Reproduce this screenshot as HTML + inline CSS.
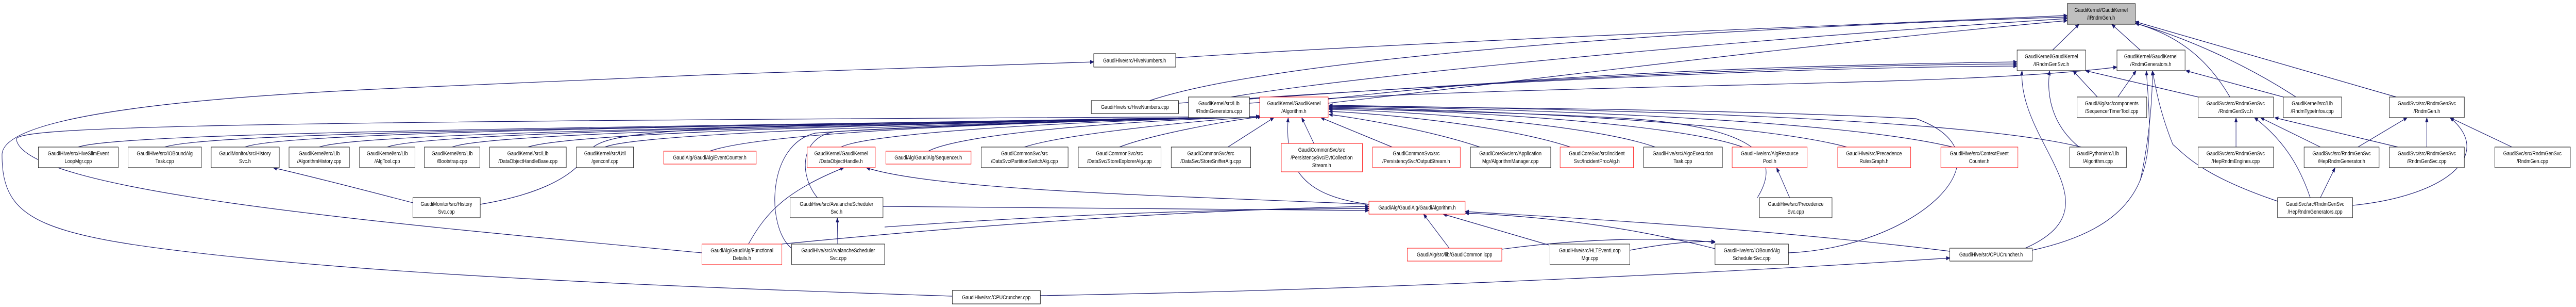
<!DOCTYPE html>
<html><head><meta charset="utf-8"><meta name="viewport" content="width=6319, initial-scale=1"><style>
html,body{margin:0;padding:0;background:#fff;width:100%;height:100%;overflow:hidden}
svg{display:block;position:absolute;left:0;top:0;width:100vw;height:100vh}
text{font-family:"Liberation Sans",Arial,sans-serif;font-size:11.5px;fill:#000}
.e{fill:none;stroke:#191970;stroke-width:1.2}
</style></head><body>
<svg viewBox="0 0 6319 595" preserveAspectRatio="none" xmlns="http://www.w3.org/2000/svg">
<defs><marker id="a" markerWidth="10" markerHeight="8" refX="9" refY="4" orient="auto" markerUnits="userSpaceOnUse"><path d="M0,0 L10,4 L0,8 z" fill="#191970"/></marker></defs>
<g id="edges" marker-end="url(#a)">
<path class="e" d="M192,285 C300,255 1500,248 3090,226"/>
<path class="e" d="M404,285 C520,255 1600,248 3090,226"/>
<path class="e" d="M601,285 C700,255 1700,246 3090,226"/>
<path class="e" d="M783,285 C880,258 1800,246 3090,226"/>
<path class="e" d="M950,285 C1040,258 1900,244 3090,226"/>
<path class="e" d="M1109,285 C1200,258 2000,244 3090,226"/>
<path class="e" d="M1295,285 C1400,258 2100,242 3090,226"/>
<path class="e" d="M1484,285 C1560,260 2200,242 3090,226"/>
<path class="e" d="M1741,293 C1850,262 2300,240 3090,226"/>
<path class="e" d="M2063,285 C2120,262 2500,238 3090,226"/>
<path class="e" d="M2277,293 C2350,262 2700,236 3090,226"/>
<path class="e" d="M2513,285 C2600,262 2900,236 3090,226"/>
<path class="e" d="M2746,285 C2820,262 3000,235 3095,226"/>
<path class="e" d="M3012,285 L3125,228"/>
<path class="e" d="M3223,278 L3193,228"/>
<path class="e" d="M3415,285 L3240,228"/>
<path class="e" d="M3630,285 C3500,250 3300,225 3260,222"/>
<path class="e" d="M3852,285 C3700,245 3400,220 3260,216"/>
<path class="e" d="M4060,285 C3900,240 3450,215 3260,212"/>
<path class="e" d="M4275,285 C4100,235 3500,212 3260,210"/>
<path class="e" d="M4530,285 C4300,235 3600,212 3260,208"/>
<path class="e" d="M4790,285 C4500,230 3700,210 3260,206"/>
<path class="e" d="M5105,285 C4800,225 3800,210 3260,204"/>
<path class="e" d="M4311,383 C4360,320 4350,250 4000,230 C3800,220 3400,212 3260,210"/>
<path class="e" d="M1178,396 C1300,380 1400,350 1440,300 C1470,250 1600,244 3090,226"/>
<path class="e" d="M3358,396 C3200,380 3150,330 3160,228"/>
<path class="e" d="M1722,490 C900,430 60,370 40,270 C40,248 400,235 3090,226"/>
<path class="e" d="M1940,480 C1880,440 1880,280 2000,258 C2300,240 2800,232 3090,226"/>
<path class="e" d="M2005,383 C1960,340 1960,265 2050,255 C2400,240 2800,232 3090,226"/>
<path class="e" d="M1918,473 C2600,420 3100,404 3358,400"/>
<path class="e" d="M2170,440 C2700,410 3100,405 3358,404"/>
<path class="e" d="M2166,400 C2700,400 3100,404 3358,408"/>
<path class="e" d="M3555,481 L3492,415"/>
<path class="e" d="M3800,475 L3540,415"/>
<path class="e" d="M4207,482 C4000,440 3800,420 3594,413"/>
<path class="e" d="M4783,487 C4300,440 3800,420 3594,410"/>
<path class="e" d="M3684,483 C3900,460 4100,460 4207,470"/>
<path class="e" d="M3998,485 C4100,470 4150,468 4207,468"/>
<path class="e" d="M1013,393 C900,370 780,345 670,325"/>
<path class="e" d="M1836,473 C1880,410 1930,370 2070,325"/>
<path class="e" d="M3358,396 C2900,380 2300,370 2125,325"/>
<path class="e" d="M2055,473 L2054,422"/>
<path class="e" d="M4390,383 L4358,325"/>
<path class="e" d="M2552,573 C3500,560 4400,520 4783,500"/>
<path class="e" d="M2336,574 C1800,560 1100,540 600,500 C100,460 5,430 5,300 C5,230 400,190 1000,170 C1500,150 2300,128 2683,120"/>
<path class="e" d="M4968,481 C5200,400 4950,280 4960,137"/>
<path class="e" d="M4985,485 C5300,430 5280,300 5265,137"/>
<path class="e" d="M4387,490 C4700,480 4950,300 4700,230 C4200,210 3500,208 3260,206"/>
<path class="e" d="M5100,285 C5030,240 5020,180 5028,137"/>
<path class="e" d="M5145,188 L5085,137"/>
<path class="e" d="M5195,188 L5240,137"/>
<path class="e" d="M5035,97 L5100,47"/>
<path class="e" d="M5250,97 L5180,47"/>
<path class="e" d="M2884,112 C3500,80 4500,50 5071,30"/>
<path class="e" d="M2820,195 C3100,120 4000,60 5071,33"/>
<path class="e" d="M3020,188 C3300,150 4200,80 5071,36"/>
<path class="e" d="M3258,200 C3800,150 4500,80 5071,40"/>
<path class="e" d="M3258,192 C3800,140 4500,125 4948,120"/>
<path class="e" d="M3065,192 C3800,150 4500,125 4948,124"/>
<path class="e" d="M2891,200 C3800,150 4500,130 4948,128"/>
<path class="e" d="M3065,200 C3800,160 4800,170 5193,130"/>
<path class="e" d="M5470,188 C5420,120 5350,70 5238,45"/>
<path class="e" d="M5632,188 C5500,120 5350,70 5238,45"/>
<path class="e" d="M5878,188 L5238,42"/>
<path class="e" d="M5392,188 L5116,137"/>
<path class="e" d="M5601,188 L5362,137"/>
<path class="e" d="M5485,285 L5485,228"/>
<path class="e" d="M5692,285 L5545,228"/>
<path class="e" d="M5882,285 L5580,228"/>
<path class="e" d="M5784,285 L5905,228"/>
<path class="e" d="M5953,285 L5953,228"/>
<path class="e" d="M6162,285 L6010,228"/>
<path class="e" d="M5692,383 L5728,325"/>
<path class="e" d="M5667,383 C5640,320 5600,270 5530,228"/>
<path class="e" d="M5771,398 C6000,380 6120,300 6010,228"/>
<path class="e" d="M5587,390 C5400,340 5360,300 5330,280 C5300,220 5290,180 5280,137"/>
<path class="e" d="M5250,350 C5270,280 5280,200 5280,137"/>
</g>
<g id="nodes" stroke-width="1">
<g stroke="#000" fill="#bfbfbf"><rect x="5071" y="7" width="167" height="40"/></g>
<g fill="#fff" stroke="#000">
<rect x="4948" y="97" width="168" height="40"/>
<rect x="5193" y="97" width="167" height="40"/>
<rect x="2683" y="104" width="201" height="26"/>
<rect x="2677" y="195" width="214" height="25"/>
<rect x="2915" y="188" width="150" height="40"/>
<rect x="5095" y="188" width="171" height="40"/>
<rect x="5392" y="188" width="185" height="40"/>
<rect x="5601" y="188" width="143" height="40"/>
<rect x="5861" y="188" width="184" height="40"/>
<rect x="94" y="285" width="196" height="40"/>
<rect x="314" y="285" width="180" height="40"/>
<rect x="518" y="285" width="167" height="40"/>
<rect x="709" y="285" width="148" height="40"/>
<rect x="882" y="285" width="136" height="40"/>
<rect x="1041" y="285" width="136" height="40"/>
<rect x="1201" y="285" width="188" height="40"/>
<rect x="1414" y="285" width="140" height="40"/>
<rect x="2407" y="285" width="213" height="40"/>
<rect x="2645" y="285" width="203" height="40"/>
<rect x="2873" y="285" width="195" height="40"/>
<rect x="3607" y="285" width="197" height="40"/>
<rect x="4032" y="285" width="193" height="40"/>
<rect x="5077" y="285" width="139" height="40"/>
<rect x="5392" y="285" width="185" height="40"/>
<rect x="5652" y="285" width="184" height="40"/>
<rect x="5861" y="285" width="184" height="40"/>
<rect x="6120" y="285" width="185" height="40"/>
<rect x="1013" y="383" width="165" height="39"/>
<rect x="1938" y="383" width="228" height="39"/>
<rect x="4316" y="383" width="178" height="39"/>
<rect x="5587" y="383" width="184" height="39"/>
<rect x="1942" y="473" width="228" height="40"/>
<rect x="3802" y="473" width="196" height="40"/>
<rect x="4207" y="473" width="180" height="40"/>
<rect x="4783" y="481" width="202" height="25"/>
<rect x="2336" y="563" width="216" height="26"/>
</g>
<g fill="#fff" stroke="#ff0000">
<rect x="3090" y="188" width="168" height="40"/>
<rect x="1628" y="293" width="227" height="25"/>
<rect x="1980" y="285" width="167" height="40"/>
<rect x="2173" y="293" width="209" height="25"/>
<rect x="3143" y="278" width="199" height="55"/>
<rect x="3367" y="285" width="215" height="40"/>
<rect x="3827" y="285" width="180" height="40"/>
<rect x="4249" y="285" width="184" height="40"/>
<rect x="4508" y="285" width="179" height="40"/>
<rect x="4761" y="285" width="189" height="40"/>
<rect x="3358" y="390" width="236" height="25"/>
<rect x="1722" y="473" width="196" height="40"/>
<rect x="3452" y="481" width="232" height="25"/>
</g>
</g>
<g text-anchor="middle">
<text x="5154" y="23">GaudiKernel/GaudiKernel</text><text x="5154" y="38">/IRndmGen.h</text>
<text x="5032" y="113">GaudiKernel/GaudiKernel</text><text x="5032" y="128">/IRndmGenSvc.h</text>
<text x="5276" y="113">GaudiKernel/GaudiKernel</text><text x="5276" y="128">/RndmGenerators.h</text>
<text x="2783" y="121">GaudiHive/src/HiveNumbers.h</text>
<text x="2784" y="211">GaudiHive/src/HiveNumbers.cpp</text>
<text x="2990" y="204">GaudiKernel/src/Lib</text><text x="2990" y="219">/RndmGenerators.cpp</text>
<text x="3174" y="204">GaudiKernel/GaudiKernel</text><text x="3174" y="219">/Algorithm.h</text>
<text x="5180" y="204">GaudiAlg/src/components</text><text x="5180" y="219">/SequencerTimerTool.cpp</text>
<text x="5484" y="204">GaudiSvc/src/RndmGenSvc</text><text x="5484" y="219">/RndmGenSvc.h</text>
<text x="5672" y="204">GaudiKernel/src/Lib</text><text x="5672" y="219">/RndmTypeInfos.cpp</text>
<text x="5953" y="204">GaudiSvc/src/RndmGenSvc</text><text x="5953" y="219">/RndmGen.h</text>
<text x="192" y="301">GaudiHive/src/HiveSlimEvent</text><text x="192" y="316">LoopMgr.cpp</text>
<text x="404" y="301">GaudiHive/src/IOBoundAlg</text><text x="404" y="316">Task.cpp</text>
<text x="601" y="301">GaudiMonitor/src/History</text><text x="601" y="316">Svc.h</text>
<text x="783" y="301">GaudiKernel/src/Lib</text><text x="783" y="316">/AlgorithmHistory.cpp</text>
<text x="950" y="301">GaudiKernel/src/Lib</text><text x="950" y="316">/AlgTool.cpp</text>
<text x="1109" y="301">GaudiKernel/src/Lib</text><text x="1109" y="316">/Bootstrap.cpp</text>
<text x="1295" y="301">GaudiKernel/src/Lib</text><text x="1295" y="316">/DataObjectHandleBase.cpp</text>
<text x="1484" y="301">GaudiKernel/src/Util</text><text x="1484" y="316">/genconf.cpp</text>
<text x="1741" y="309">GaudiAlg/GaudiAlg/EventCounter.h</text>
<text x="2063" y="301">GaudiKernel/GaudiKernel</text><text x="2063" y="316">/DataObjectHandle.h</text>
<text x="2277" y="309">GaudiAlg/GaudiAlg/Sequencer.h</text>
<text x="2513" y="301">GaudiCommonSvc/src</text><text x="2513" y="316">/DataSvc/PartitionSwitchAlg.cpp</text>
<text x="2746" y="301">GaudiCommonSvc/src</text><text x="2746" y="316">/DataSvc/StoreExplorerAlg.cpp</text>
<text x="2970" y="301">GaudiCommonSvc/src</text><text x="2970" y="316">/DataSvc/StoreSnifferAlg.cpp</text>
<text x="3242" y="294">GaudiCommonSvc/src</text><text x="3242" y="309">/PersistencySvc/EvtCollection</text><text x="3242" y="324">Stream.h</text>
<text x="3474" y="301">GaudiCommonSvc/src</text><text x="3474" y="316">/PersistencySvc/OutputStream.h</text>
<text x="3705" y="301">GaudiCoreSvc/src/Application</text><text x="3705" y="316">Mgr/AlgorithmManager.cpp</text>
<text x="3917" y="301">GaudiCoreSvc/src/Incident</text><text x="3917" y="316">Svc/IncidentProcAlg.h</text>
<text x="4128" y="301">GaudiHive/src/AlgoExecution</text><text x="4128" y="316">Task.cpp</text>
<text x="4341" y="301">GaudiHive/src/AlgResource</text><text x="4341" y="316">Pool.h</text>
<text x="4597" y="301">GaudiHive/src/Precedence</text><text x="4597" y="316">RulesGraph.h</text>
<text x="4855" y="301">GaudiHive/src/ContextEvent</text><text x="4855" y="316">Counter.h</text>
<text x="5146" y="301">GaudiPython/src/Lib</text><text x="5146" y="316">/Algorithm.cpp</text>
<text x="5484" y="301">GaudiSvc/src/RndmGenSvc</text><text x="5484" y="316">/HepRndmEngines.cpp</text>
<text x="5744" y="301">GaudiSvc/src/RndmGenSvc</text><text x="5744" y="316">/HepRndmGenerator.h</text>
<text x="5953" y="301">GaudiSvc/src/RndmGenSvc</text><text x="5953" y="316">/RndmGenSvc.cpp</text>
<text x="6212" y="301">GaudiSvc/src/RndmGenSvc</text><text x="6212" y="316">/RndmGen.cpp</text>
<text x="1095" y="399">GaudiMonitor/src/History</text><text x="1095" y="414">Svc.cpp</text>
<text x="2052" y="399">GaudiHive/src/AvalancheScheduler</text><text x="2052" y="414">Svc.h</text>
<text x="3476" y="406">GaudiAlg/GaudiAlg/GaudiAlgorithm.h</text>
<text x="4405" y="399">GaudiHive/src/Precedence</text><text x="4405" y="414">Svc.cpp</text>
<text x="5679" y="399">GaudiSvc/src/RndmGenSvc</text><text x="5679" y="414">/HepRndmGenerators.cpp</text>
<text x="1820" y="489">GaudiAlg/GaudiAlg/Functional</text><text x="1820" y="504">Details.h</text>
<text x="2056" y="489">GaudiHive/src/AvalancheScheduler</text><text x="2056" y="504">Svc.cpp</text>
<text x="3568" y="497">GaudiAlg/src/lib/GaudiCommon.icpp</text>
<text x="3900" y="489">GaudiHive/src/HLTEventLoop</text><text x="3900" y="504">Mgr.cpp</text>
<text x="4297" y="489">GaudiHive/src/IOBoundAlg</text><text x="4297" y="504">SchedulerSvc.cpp</text>
<text x="4884" y="497">GaudiHive/src/CPUCruncher.h</text>
<text x="2444" y="580">GaudiHive/src/CPUCruncher.cpp</text>
</g>
</svg>
</body></html>
